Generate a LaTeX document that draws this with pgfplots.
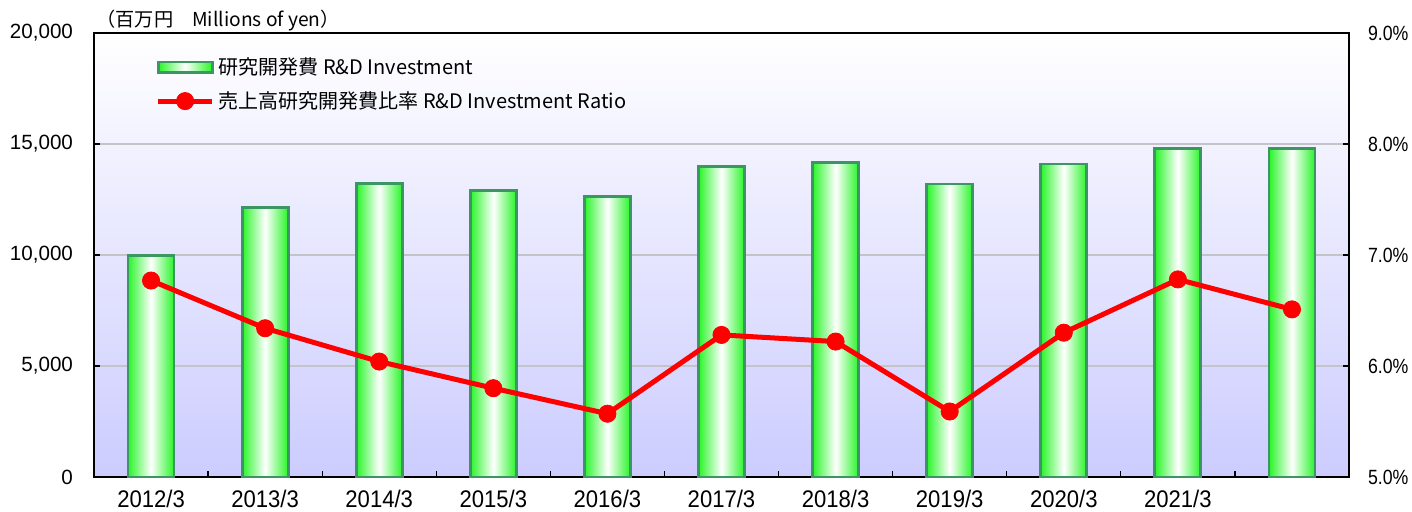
\documentclass[border=0pt]{standalone}
\usepackage{pgfplots}
\pgfplotsset{compat=1.18}
\usepackage{fontspec}
\setmainfont{Liberation Sans}
\newfontfamily\jp{Noto Sans CJK JP}
\newfontfamily\xlab[FakeStretch=0.92]{Liberation Sans}
\newfontfamily\ylab[FakeStretch=0.86]{Liberation Sans}
\definecolor{bargreen}{RGB}{40,245,40}
\definecolor{barborder}{RGB}{60,150,100}
\definecolor{bgbot}{RGB}{204,204,255}
\definecolor{gridgray}{RGB}{195,195,200}
\pgfplotsset{mylinelegend/.style={legend image code/.code={\draw[mark repeat=2,mark phase=2,##1] plot coordinates {(0pt,0pt) (13.5pt,0pt) (27pt,0pt)};}}}
\pgfplotstableread{
x y
0 9960
1 12150
2 13230
3 12900
4 12620
5 14000
6 14150
7 13200
8 14100
9 14780
10 14780
}\rdtable
\pgfplotstableread{
x y
0 6.77
1 6.34
2 6.04
3 5.80
4 5.57
5 6.28
6 6.22
7 5.59
8 6.30
9 6.78
10 6.51
}\ratiotable
\begin{document}
\begin{tikzpicture}
\useasboundingbox (0,0) rectangle (706pt,256pt);
\begin{axis}[
  at={(47pt,17.5pt)}, anchor=south west,
  scale only axis, width=627.5pt, height=222pt,
  xmin=-0.5, xmax=10.5, ymin=0, ymax=20000,
  clip=false,
  axis background/.style={top color=white, bottom color=bgbot},
  axis line style={black, line width=1.2pt},
  xtick={0,...,9},
  xticklabels={2012/3,2013/3,2014/3,2015/3,2016/3,2017/3,2018/3,2019/3,2020/3,2021/3},
  major x tick style={draw=none},
  minor xtick={0.5,1.5,...,9.5},
  minor x tick style={black, line width=0.6pt},
  minor tick length=3pt,
  xtick pos=bottom, ytick pos=left,
  x tick label style={font=\xlab\fontsize{12}{14}\selectfont, yshift=-3pt},
  ytick={0,5000,10000,15000,20000},
  ymajorgrids, grid style={gridgray, line width=0.6pt},
  tick align=inside, major tick length=3pt,
  major y tick style={black, line width=0.6pt},
  /pgf/number format/assume math mode=true,
  y tick label style={font=\fontsize{10.3}{12}\selectfont, /pgf/number format/1000 sep={,}, xshift=-7pt},
  scaled y ticks=false,
]
\pgfplotsinvokeforeach{0,...,10}{
\addplot[ybar, bar width=23pt, bar shift=0pt, draw=barborder, line width=1.4pt,
  left color=bargreen, right color=bargreen, middle color=white,
  restrict x to domain=#1:#1] table[x=x,y=y] {\rdtable};
}
\node[anchor=south west, font=\jp\fontsize{9.6}{12}\selectfont, inner sep=0pt] at (rel axis cs:0,1) [yshift=1pt, xshift=1pt] {（百万円　Millions of yen）};
\end{axis}
\begin{axis}[
  at={(47pt,17.5pt)}, anchor=south west,
  scale only axis, width=627.5pt, height=222pt,
  xmin=-0.5, xmax=10.5, ymin=5, ymax=9,
  axis y line*=right, axis x line=none,
  axis line style={black, line width=1pt},
  ytick={5,6,7,8,9},
  tick align=inside, major tick length=3pt,
  major y tick style={black, line width=0.6pt},
  /pgf/number format/assume math mode=true,
  yticklabel={\pgfmathprintnumber[fixed,fixed zerofill,precision=1]{\tick}\%},
  y tick label style={font=\ylab\fontsize{10.3}{12}\selectfont, xshift=6pt},
  legend cell align=left,
  legend style={draw=none, fill=none, at={(0.044,0.964)}, anchor=north west,
    font=\jp\fontsize{10}{12}\selectfont, row sep=3pt},
]
\addlegendimage{legend image code/.code={\draw[draw=barborder, line width=1.4pt, left color=bargreen, right color=bargreen, middle color=white] (0pt,-2.6pt) rectangle (27pt,2.6pt);}}
\addlegendentry{研究開発費 R\&D Investment}
\addplot[red, line width=2.5pt, mark=*, mark size=4.3pt, mark options={line width=0.4pt}, mylinelegend]
  table[x=x,y=y] {\ratiotable};
\addlegendentry{売上高研究開発費比率 R\&D Investment Ratio}
\end{axis}
\end{tikzpicture}
\end{document}
